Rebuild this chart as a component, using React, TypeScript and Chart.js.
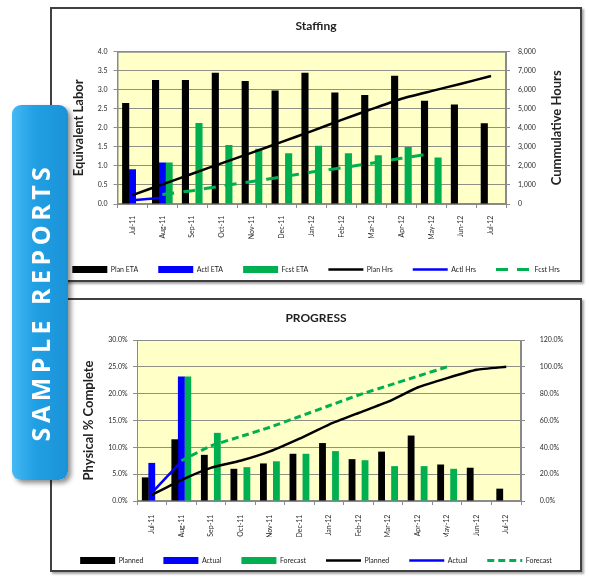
import React, { useEffect, useRef } from "react";
import { Chart, registerables } from "chart.js";

Chart.register(...registerables);

const FONT = 'Lato, "Open Sans", "DejaVu Sans", sans-serif';

// ---------- shared categories ----------
const months = [
  "Jul-11", "Aug-11", "Sep-11", "Oct-11", "Nov-11", "Dec-11", "Jan-12",
  "Feb-12", "Mar-12", "Apr-12", "May-12", "Jun-12", "Jul-12",
];

// ---------- Staffing ----------
const planEta = [2.65, 3.26, 3.26, 3.45, 3.23, 2.98, 3.45, 2.93, 2.86, 3.37, 2.71, 2.61, 2.12];
const actlEta = [0.91, 1.09, null, null, null, null, null, null, null, null, null, null, null];
const fcstEta = [null, 1.09, 2.13, 1.55, 1.45, 1.33, 1.53, 1.33, 1.28, 1.5, 1.22, null, null];
const planHrs = [470, 1030, 1590, 2150, 2700, 3260, 3830, 4420, 4980, 5530, 5930, 6320, 6720];
const actlHrs = [200, 330, null, null, null, null, null, null, null, null, null, null, null];
const fcstHrs = [null, 500, 700, 950, 1180, 1420, 1680, 1900, 2140, 2400, 2650, null, null];
const staffLeftTicks = [0, 0.5, 1, 1.5, 2, 2.5, 3, 3.5, 4];
const staffRightTicks = [0, 1000, 2000, 3000, 4000, 5000, 6000, 7000, 8000];

// ---------- Progress ----------
const plannedPct = [4.4, 11.5, 8.6, 6.0, 7.0, 8.8, 10.8, 7.8, 9.2, 12.2, 6.8, 6.2, 2.3];
const actualPct = [7.1, 23.2, null, null, null, null, null, null, null, null, null, null, null];
const forecastPct = [null, 23.2, 12.7, 6.3, 7.4, 8.8, 9.3, 7.6, 6.5, 6.5, 6.0, null, null];
const plannedCum = [4.5, 15.6, 24.7, 30, 37, 46.5, 57, 65.6, 74, 84.6, 91.6, 97.8, 100];
const actualCum = [6, 29.5, null, null, null, null, null, null, null, null, null, null, null];
const forecastCum = [null, 30, 41, 48, 55, 63, 71, 79, 86, 93, 100, null, null];
const progLeftTicks = [0, 5, 10, 15, 20, 25, 30];
const progRightTicks = [0, 20, 40, 60, 80, 100, 120];

const BLACK = "#000000";
const BLUE = "#0000FF";
const GREEN = "#00B050";
const PLOT_BG = "#FFFFC8";
const GRID = "#8f8f85";
const AXIS = "#8a8a8a";
const TXT = "#2a2a2a";

const plotBgPlugin = {
  id: "plotBg",
  beforeDraw(chart: any) {
    const { ctx, chartArea } = chart;
    if (!chartArea) return;
    ctx.save();
    ctx.fillStyle = PLOT_BG;
    ctx.fillRect(chartArea.left, chartArea.top, chartArea.right - chartArea.left, chartArea.bottom - chartArea.top);
    ctx.restore();
  },
  beforeDatasetsDraw(chart: any) {
    const { ctx, chartArea } = chart;
    ctx.save();
    ctx.strokeStyle = AXIS;
    ctx.lineWidth = 1;
    ctx.strokeRect(chartArea.left + 0.5, chartArea.top + 0.5, chartArea.right - chartArea.left - 1, chartArea.bottom - chartArea.top - 1);
    ctx.restore();
  },
};

function makeRightTitle(text: string, x: number) {
  return {
    id: "rightTitle",
    afterDraw(chart: any) {
      const { ctx, chartArea } = chart;
      ctx.save();
      ctx.translate(x, (chartArea.top + chartArea.bottom) / 2);
      ctx.rotate(-Math.PI / 2);
      ctx.font = `bold 13px ${FONT}`;
      ctx.fillStyle = "#222";
      ctx.textAlign = "center";
      ctx.textBaseline = "middle";
      ctx.fillText(text, 0, 0);
      ctx.restore();
    },
  };
}

function legendLabels(chart: any) {
  return chart.data.datasets.map((ds: any, i: number) => {
    const isLine = ds.type === "line";
    return {
      text: ds.label,
      fillStyle: isLine ? "rgba(0,0,0,0)" : ds.backgroundColor,
      strokeStyle: isLine ? ds.borderColor : ds.backgroundColor,
      lineWidth: isLine ? ds.borderWidth : 0,
      lineDash: ds.borderDash || [],
      pointStyle: isLine ? "line" : "rect",
      hidden: false,
      datasetIndex: i,
      fontColor: "#222",
    };
  });
}

type Cfg = {
  title: string;
  titlePad: { top: number; bottom: number };
  leftTitle: string;
  leftTitlePad: number;
  leftWidth: number;
  rightWidth: number;
  xHeight: number;
  xPad: number;
  leftMax: number;
  rightMax: number;
  leftTicks: number[];
  rightTicks: number[];
  leftFmt: (v: number) => string;
  rightFmt: (v: number) => string;
  leftTickPad: number;
  rightTickPad: number;
  barLabels: string[];
  lineLabels: string[];
  bars: (number | null)[][];
  lines: (number | null)[][];
  fcstDash: number[];
  rightTitle?: { text: string; x: number };
  catPct: number;
};

function buildChart(canvas: HTMLCanvasElement, c: Cfg) {
  const colors = [BLACK, BLUE, GREEN];
  const datasets: any[] = [];
  c.bars.forEach((d, i) => {
    datasets.push({
      type: "bar",
      label: c.barLabels[i],
      data: d,
      backgroundColor: colors[i],
      borderWidth: 0,
      yAxisID: "y",
      order: 2,
      categoryPercentage: c.catPct,
      barPercentage: 1.05,
    });
  });
  c.lines.forEach((d, i) => {
    datasets.push({
      type: "line",
      label: c.lineLabels[i],
      data: d,
      borderColor: colors[i],
      backgroundColor: colors[i],
      borderWidth: i === 2 ? 3 : 2.5,
      borderDash: i === 2 ? c.fcstDash : [],
      pointRadius: 0,
      tension: 0.15,
      yAxisID: "y1",
      order: 1,
      spanGaps: false,
    });
  });
  const plugins: any[] = [plotBgPlugin];
  if (c.rightTitle) plugins.push(makeRightTitle(c.rightTitle.text, c.rightTitle.x));
  return new Chart(canvas, {
    type: "bar",
    data: { labels: months, datasets },
    plugins,
    options: {
      responsive: false,
      animation: false,
      events: [],
      layout: { padding: 0 },
      plugins: {
        title: {
          display: true,
          text: c.title,
          color: "#222",
          font: { size: 12, weight: "bold", family: FONT },
          padding: c.titlePad,
        },
        legend: {
          position: "bottom",
          labels: {
            usePointStyle: true,
            pointStyleWidth: 35,
            padding: 20,
            font: { size: 7, family: FONT },
            color: "#222",
            generateLabels: legendLabels,
          },
        },
        tooltip: { enabled: false },
      },
      scales: {
        x: {
          offset: true,
          grid: { display: true, drawOnChartArea: false, offset: true, tickLength: 4, color: AXIS },
          border: { display: true, color: AXIS },
          ticks: {
            autoSkip: false,
            maxRotation: 90,
            minRotation: 90,
            padding: c.xPad,
            font: { size: 7, family: FONT },
            color: TXT,
          },
          afterFit: (s: any) => {
            s.height = c.xHeight;
          },
        },
        y: {
          position: "left",
          min: 0,
          max: c.leftMax,
          afterBuildTicks: (s: any) => {
            s.ticks = c.leftTicks.map((value) => ({ value }));
          },
          grid: { color: GRID, tickLength: 4, lineWidth: 1 },
          border: { display: true, color: AXIS },
          ticks: {
            padding: c.leftTickPad,
            font: { size: 7, family: FONT },
            color: TXT,
            callback: (v: any) => c.leftFmt(Number(v)),
          },
          title: {
            display: true,
            text: c.leftTitle,
            color: "#222",
            font: { size: 13, weight: "bold", family: FONT },
            padding: { top: c.leftTitlePad, bottom: 0 },
          },
          afterFit: (s: any) => {
            s.width = c.leftWidth;
          },
        },
        y1: {
          position: "right",
          min: 0,
          max: c.rightMax,
          afterBuildTicks: (s: any) => {
            s.ticks = c.rightTicks.map((value) => ({ value }));
          },
          grid: { drawOnChartArea: false, tickLength: 4, color: AXIS },
          border: { display: true, color: AXIS },
          ticks: {
            padding: c.rightTickPad,
            font: { size: 7, family: FONT },
            color: TXT,
            callback: (v: any) => c.rightFmt(Number(v)),
          },
          afterFit: (s: any) => {
            s.width = c.rightWidth;
          },
        },
      },
    } as any,
  });
}

function ChartCanvas({ cfg, style }: { cfg: Cfg; style: React.CSSProperties }) {
  const ref = useRef<HTMLCanvasElement | null>(null);
  useEffect(() => {
    if (!ref.current) return;
    const ch = buildChart(ref.current, cfg);
    return () => ch.destroy();
  }, []);
  return <canvas ref={ref} width={528} height={274} style={{ position: "absolute", width: 528, height: 274, ...style }} />;
}

const staffingCfg: Cfg = {
  title: "Staffing",
  titlePad: { top: 10.2, bottom: 18.1 },
  leftTitle: "Equivalent Labor",
  leftTitlePad: 19,
  leftWidth: 65.5,
  rightWidth: 74,
  xHeight: 42,
  xPad: 7.7,
  leftMax: 4,
  rightMax: 8000,
  leftTicks: staffLeftTicks,
  rightTicks: staffRightTicks,
  leftFmt: (v) => v.toFixed(1),
  rightFmt: (v) => v.toLocaleString("en-US"),
  leftTickPad: 6,
  rightTickPad: 8,
  barLabels: ["Plan ETA", "Actl ETA", "Fcst ETA"],
  lineLabels: ["Plan Hrs", "Actl Hrs", "Fcst Hrs"],
  bars: [planEta, actlEta, fcstEta],
  lines: [planHrs, actlHrs, fcstHrs],
  fcstDash: [12, 9],
  rightTitle: { text: "Cummulative Hours", x: 504.7 },
  catPct: 0.68,
};

const progressCfg: Cfg = {
  title: "PROGRESS",
  titlePad: { top: 11.4, bottom: 14.2 },
  leftTitle: "Physical % Complete",
  leftTitlePad: 29,
  leftWidth: 85,
  rightWidth: 59,
  xHeight: 36,
  xPad: 9.6,
  leftMax: 30,
  rightMax: 120,
  leftTicks: progLeftTicks,
  rightTicks: progRightTicks,
  leftFmt: (v) => v.toFixed(1) + "%",
  rightFmt: (v) => v.toFixed(1) + "%",
  leftTickPad: 5.4,
  rightTickPad: 14.7,
  barLabels: ["Planned", "Actual", "Forecast"],
  lineLabels: ["Planned", "Actual", "Forecast"],
  bars: [plannedPct, actualPct, forecastPct],
  lines: [plannedCum, actualCum, forecastCum],
  fcstDash: [7, 4],
  catPct: 0.66,
};

export default function App() {
  const box: React.CSSProperties = {
    position: "absolute",
    left: 50,
    width: 532,
    border: "2px solid #404040",
    boxSizing: "border-box",
    background: "#fff",
    boxShadow: "2px 2px 2px rgba(0,0,0,0.35)",
  };
  return (
    <div style={{ position: "fixed", left: 0, top: 0, width: 590, height: 578, background: "#fff", overflow: "hidden", fontFamily: FONT }}>
      <div style={{ ...box, top: 7, height: 275 }} />
      <div style={{ ...box, top: 298, height: 274 }} />
      <ChartCanvas cfg={staffingCfg} style={{ left: 52, top: 9 }} />
      <ChartCanvas cfg={progressCfg} style={{ left: 52, top: 300 }} />
      <div
        style={{
          position: "absolute",
          left: 12,
          top: 105,
          width: 56,
          height: 375,
          borderRadius: 9,
          background: "linear-gradient(to right, #45b8f4 0%, #22a0e4 40%, #1a92d8 100%)",
          boxShadow: "3px 3px 5px rgba(0,0,0,0.45)",
        }}
      >
        <div
          style={{
            position: "absolute",
            left: "50%",
            top: "calc(50% + 9px)",
            transform: "translate(-50%, -50%) rotate(-90deg)",
            whiteSpace: "nowrap",
            color: "#fff",
            fontFamily: '"Open Sans", sans-serif',
            fontWeight: 700,
            fontSize: 25,
            letterSpacing: 4.5,
          }}
        >
          SAMPLE REPORTS
        </div>
      </div>
    </div>
  );
}
